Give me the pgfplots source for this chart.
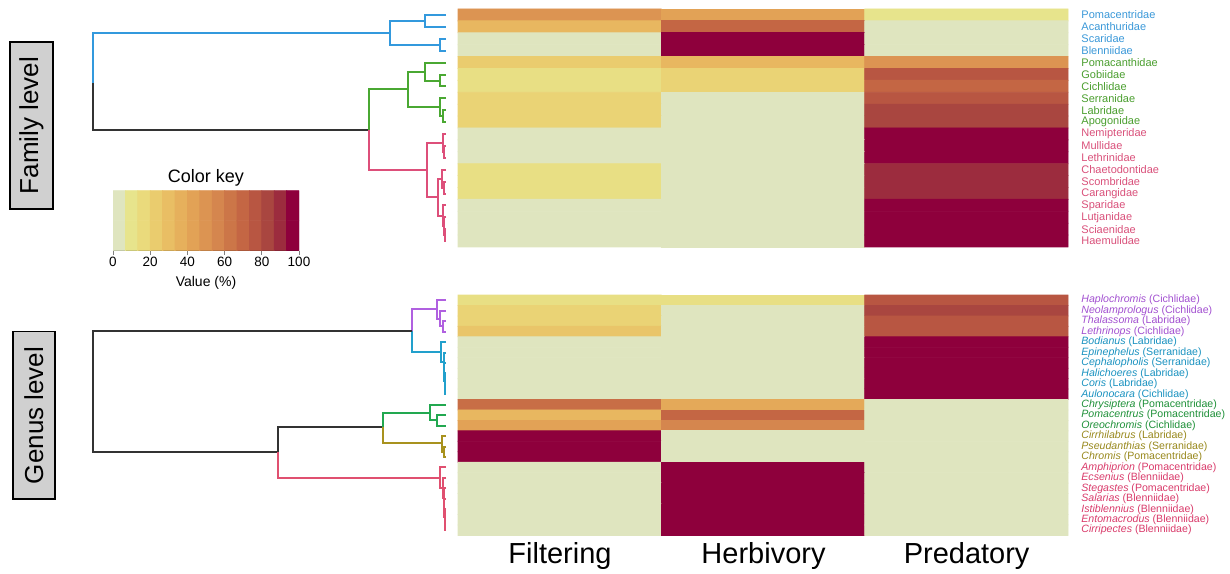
\documentclass[border=0pt]{standalone}
\usepackage{fontspec}
\setmainfont{Liberation Sans}
\usepackage{pgfplots}
\pgfplotsset{compat=1.18}
\definecolor{famblue}{HTML}{3399DD}
\definecolor{famgreen}{HTML}{4AA832}
\definecolor{fampink}{HTML}{DD4F7A}
\definecolor{genpurple}{HTML}{B060E0}
\definecolor{genblue}{HTML}{22A0CC}
\definecolor{gengreen}{HTML}{22A850}
\definecolor{genolive}{HTML}{A8921E}
\definecolor{genpink}{HTML}{E05070}
\definecolor{dgray}{HTML}{333333}
\definecolor{boxgray}{HTML}{D0D0D0}
\definecolor{tfamblue}{HTML}{3A98D8}
\definecolor{tfamgreen}{HTML}{4A9E2E}
\definecolor{tfampink}{HTML}{D9507A}
\definecolor{tgenpurple}{HTML}{A250D0}
\definecolor{tgenblue}{HTML}{1A92C0}
\definecolor{tgengreen}{HTML}{1E9038}
\definecolor{tgenolive}{HTML}{98881C}
\definecolor{tgenpink}{HTML}{D93A6A}
\pgfplotsset{colormap={fish}{rgb255(0cm)=(223,229,191) rgb255(0.5cm)=(223,229,191) rgb255(1.5cm)=(231,228,140) rgb255(2.5cm)=(234,218,124) rgb255(3.5cm)=(234,204,110) rgb255(4.5cm)=(233,190,100) rgb255(5.5cm)=(230,176,92) rgb255(6.5cm)=(226,162,86) rgb255(7.5cm)=(220,148,82) rgb255(8.5cm)=(213,134,78) rgb255(9.5cm)=(204,118,72) rgb255(10.5cm)=(196,102,68) rgb255(11.5cm)=(184,86,66) rgb255(12.5cm)=(169,70,64) rgb255(13.5cm)=(156,44,62) rgb255(14.5cm)=(142,0,60) rgb255(15cm)=(142,0,60)}}
\newcommand\famfont{\fontsize{5.5}{6}\selectfont}
\newcommand\genfont{\fontsize{5.3}{6}\selectfont}
\begin{document}
\begin{tikzpicture}
\useasboundingbox (0,0) rectangle (615pt,286.5pt);
% ---------------- dendrograms (pixel coordinates) ----------------
\begin{axis}[at={(0pt,0pt)}, anchor=south west, width=615pt, height=286.5pt, scale only axis,
  xmin=0, xmax=1230, ymin=0, ymax=573, y dir=reverse, hide axis, clip=false,
  every axis plot/.append style={line width=1pt, line join=miter}]
% family: blue
\addplot[famblue] coordinates {(446,15) (425,15) (425,27) (446,27)};
\addplot[famblue] coordinates {(446,39) (440,39) (440,51) (446,51)};
\addplot[famblue] coordinates {(425,21) (390,21) (390,45) (440,45)};
\addplot[famblue] coordinates {(390,33) (93,33) (93,83)};
\addplot[dgray] coordinates {(93,83) (93,129.5) (369,129.5)};
% family: green
\addplot[famgreen] coordinates {(446,74.5) (440,74.5) (440,86.4) (446,86.4)};
\addplot[famgreen] coordinates {(446,62.6) (425,62.6) (425,80.5) (440,80.5)};
\addplot[famgreen] coordinates {(446,110.2) (443,110.2) (443,122.1) (446,122.1)};
\addplot[famgreen] coordinates {(446,98.3) (440,98.3) (440,116.2) (443,116.2)};
\addplot[famgreen] coordinates {(425,71.5) (408,71.5) (408,107.2) (440,107.2)};
\addplot[famgreen] coordinates {(408,89.4) (369,89.4) (369,129.5)};
% family: pink
\addplot[fampink] coordinates {(369,129.5) (369,170) (427,170)};
\addplot[fampink] coordinates {(446,145.9) (444,145.9) (444,157.8) (446,157.8)};
\addplot[fampink] coordinates {(446,134) (443,134) (443,151.9) (444,151.9)};
\addplot[fampink] coordinates {(446,181.6) (444,181.6) (444,193.5) (446,193.5)};
\addplot[fampink] coordinates {(446,169.7) (442,169.7) (442,187.5) (444,187.5)};
\addplot[fampink] coordinates {(446,229.2) (445,229.2) (445,241.1) (446,241.1)};
\addplot[fampink] coordinates {(446,217.3) (444,217.3) (444,235.1) (445,235.1)};
\addplot[fampink] coordinates {(446,205.4) (443,205.4) (443,226.2) (444,226.2)};
\addplot[fampink] coordinates {(442,178.6) (438,178.6) (438,215.8) (443,215.8)};
\addplot[fampink] coordinates {(443,143) (427,143) (427,197.2) (438,197.2)};
% genus: purple
\addplot[genpurple] coordinates {(446,321.1) (443,321.1) (443,331.6) (446,331.6)};
\addplot[genpurple] coordinates {(446,310.7) (440,310.7) (440,326.4) (443,326.4)};
\addplot[genpurple] coordinates {(446,300.2) (437,300.2) (437,318.5) (440,318.5)};
\addplot[genpurple] coordinates {(437,309.4) (412,309.4) (412,331)};
% genus: blue
\addplot[genblue] coordinates {(412,331) (412,352) (441,352)};
\addplot[genblue] coordinates {(446,383.8) (445,383.8) (445,394.3) (446,394.3)};
\addplot[genblue] coordinates {(446,373.4) (444.5,373.4) (444.5,389) (445,389)};
\addplot[genblue] coordinates {(446,362.9) (444,362.9) (444,381.2) (444.5,381.2)};
\addplot[genblue] coordinates {(446,352.5) (443.5,352.5) (443.5,372) (444,372)};
\addplot[genblue] coordinates {(446,342) (441,342) (441,362.2) (443.5,362.2)};
% genus: black
\addplot[dgray] coordinates {(412,331) (93,331) (93,452) (278,452)};
\addplot[dgray] coordinates {(278,452) (278,427) (383,427)};
% genus: green
\addplot[gengreen] coordinates {(446,415.2) (437,415.2) (437,425.6) (446,425.6)};
\addplot[gengreen] coordinates {(446,404.7) (430,404.7) (430,420.4) (437,420.4)};
\addplot[gengreen] coordinates {(430,412.5) (383,412.5) (383,427)};
% genus: olive
\addplot[genolive] coordinates {(383,427) (383,443) (441.7,443)};
\addplot[genolive] coordinates {(446,446.5) (443.5,446.5) (443.5,457) (446,457)};
\addplot[genolive] coordinates {(446,436.1) (441.7,436.1) (441.7,451.8) (443.5,451.8)};
% genus: pink
\addplot[genpink] coordinates {(278,452) (278,477.5) (440,477.5)};
\addplot[genpink] coordinates {(446,519.7) (445,519.7) (445,530.1) (446,530.1)};
\addplot[genpink] coordinates {(446,509.2) (444.5,509.2) (444.5,524.9) (445,524.9)};
\addplot[genpink] coordinates {(446,498.8) (444,498.8) (444,517) (444.5,517)};
\addplot[genpink] coordinates {(446,488.3) (443.5,488.3) (443.5,508) (444,508)};
\addplot[genpink] coordinates {(446,477.9) (443,477.9) (443,498) (443.5,498)};
\addplot[genpink] coordinates {(446,467.4) (440,467.4) (440,487.7) (443,487.7)};
\end{axis}
% ---------------- family heatmap ----------------
\begin{axis}[at={(229pt,282pt)}, anchor=north west, width=305pt, height=119pt, scale only axis,
  xmin=-0.5, xmax=2.5, ymin=-0.5, ymax=19.5, y dir=reverse, hide axis, clip=false,
  point meta min=0, point meta max=100]
\addplot[matrix plot*, mesh/cols=3, point meta=explicit] table[meta=v] {
x y v
0 0 50
1 0 43.3
2 0 10
0 1 33.3
1 1 70
2 1 0
0 2 0
1 2 100
2 2 0
0 3 0
1 3 100
2 3 0
0 4 23.3
1 4 33.3
2 4 50
0 5 13.3
1 5 20
2 5 76.7
0 6 13.3
1 6 20
2 6 70
0 7 20
1 7 0
2 7 76.7
0 8 20
1 8 0
2 8 83.3
0 9 20
1 9 0
2 9 83.3
0 10 0
1 10 0
2 10 100
0 11 0
1 11 0
2 11 100
0 12 0
1 12 0
2 12 100
0 13 13.3
1 13 0
2 13 90
0 14 13.3
1 14 0
2 14 90
0 15 13.3
1 15 0
2 15 90
0 16 0
1 16 0
2 16 100
0 17 0
1 17 0
2 17 100
0 18 0
1 18 0
2 18 100
0 19 0
1 19 0
2 19 100
};
\begin{scope}[every node/.style={anchor=west, inner sep=0pt, xshift=6.5pt, font=\famfont}]
\node[text=tfamblue] at (axis cs:2.5,0) {Pomacentridae};
\node[text=tfamblue] at (axis cs:2.5,1) {Acanthuridae};
\node[text=tfamblue] at (axis cs:2.5,2) {Scaridae};
\node[text=tfamblue] at (axis cs:2.5,3) {Blenniidae};
\node[text=tfamgreen] at (axis cs:2.5,4) {Pomacanthidae};
\node[text=tfamgreen] at (axis cs:2.5,5) {Gobiidae};
\node[text=tfamgreen] at (axis cs:2.5,6) {Cichlidae};
\node[text=tfamgreen] at (axis cs:2.5,7) {Serranidae};
\node[text=tfamgreen] at (axis cs:2.5,8) {Labridae};
\node[text=tfamgreen] at (axis cs:2.5,9) {Apogonidae};
\node[text=tfampink] at (axis cs:2.5,10) {Nemipteridae};
\node[text=tfampink] at (axis cs:2.5,11) {Mullidae};
\node[text=tfampink] at (axis cs:2.5,12) {Lethrinidae};
\node[text=tfampink] at (axis cs:2.5,13) {Chaetodontidae};
\node[text=tfampink] at (axis cs:2.5,14) {Scombridae};
\node[text=tfampink] at (axis cs:2.5,15) {Carangidae};
\node[text=tfampink] at (axis cs:2.5,16) {Sparidae};
\node[text=tfampink] at (axis cs:2.5,17) {Lutjanidae};
\node[text=tfampink] at (axis cs:2.5,18) {Sciaenidae};
\node[text=tfampink] at (axis cs:2.5,19) {Haemulidae};
\end{scope}
\end{axis}
% ---------------- genus heatmap ----------------
\begin{axis}[at={(229pt,139pt)}, anchor=north west, width=305pt, height=120.2pt, scale only axis,
  xmin=-0.5, xmax=2.5, ymin=-0.5, ymax=22.5, y dir=reverse, hide axis, clip=false,
  point meta min=0, point meta max=100]
\addplot[matrix plot*, mesh/cols=3, point meta=explicit] table[meta=v] {
x y v
0 0 13.3
1 0 13.3
2 0 76.7
0 1 20
1 1 0
2 1 83.3
0 2 20
1 2 0
2 2 76.7
0 3 26.7
1 3 0
2 3 76.7
0 4 0
1 4 0
2 4 100
0 5 0
1 5 0
2 5 100
0 6 0
1 6 0
2 6 100
0 7 0
1 7 0
2 7 100
0 8 0
1 8 0
2 8 100
0 9 0
1 9 0
2 9 100
0 10 66.7
1 10 40
2 10 0
0 11 33.3
1 11 70
2 11 0
0 12 43.3
1 12 56.7
2 12 0
0 13 100
1 13 0
2 13 0
0 14 100
1 14 0
2 14 0
0 15 100
1 15 0
2 15 0
0 16 0
1 16 100
2 16 0
0 17 0
1 17 100
2 17 0
0 18 0
1 18 100
2 18 0
0 19 0
1 19 100
2 19 0
0 20 0
1 20 100
2 20 0
0 21 0
1 21 100
2 21 0
0 22 0
1 22 100
2 22 0
};
\begin{scope}[every node/.style={anchor=west, inner sep=0pt, xshift=6.5pt, font=\genfont}]
\node[text=tgenpurple] at (axis cs:2.5,0) {\textit{Haplochromis} (Cichlidae)};
\node[text=tgenpurple] at (axis cs:2.5,1) {\textit{Neolamprologus} (Cichlidae)};
\node[text=tgenpurple] at (axis cs:2.5,2) {\textit{Thalassoma} (Labridae)};
\node[text=tgenpurple] at (axis cs:2.5,3) {\textit{Lethrinops} (Cichlidae)};
\node[text=tgenblue] at (axis cs:2.5,4) {\textit{Bodianus} (Labridae)};
\node[text=tgenblue] at (axis cs:2.5,5) {\textit{Epinephelus} (Serranidae)};
\node[text=tgenblue] at (axis cs:2.5,6) {\textit{Cephalopholis} (Serranidae)};
\node[text=tgenblue] at (axis cs:2.5,7) {\textit{Halichoeres} (Labridae)};
\node[text=tgenblue] at (axis cs:2.5,8) {\textit{Coris} (Labridae)};
\node[text=tgenblue] at (axis cs:2.5,9) {\textit{Aulonocara} (Cichlidae)};
\node[text=tgengreen] at (axis cs:2.5,10) {\textit{Chrysiptera} (Pomacentridae)};
\node[text=tgengreen] at (axis cs:2.5,11) {\textit{Pomacentrus} (Pomacentridae)};
\node[text=tgengreen] at (axis cs:2.5,12) {\textit{Oreochromis} (Cichlidae)};
\node[text=tgenolive] at (axis cs:2.5,13) {\textit{Cirrhilabrus} (Labridae)};
\node[text=tgenolive] at (axis cs:2.5,14) {\textit{Pseudanthias} (Serranidae)};
\node[text=tgenolive] at (axis cs:2.5,15) {\textit{Chromis} (Pomacentridae)};
\node[text=tgenpink] at (axis cs:2.5,16) {\textit{Amphiprion} (Pomacentridae)};
\node[text=tgenpink] at (axis cs:2.5,17) {\textit{Ecsenius} (Blenniidae)};
\node[text=tgenpink] at (axis cs:2.5,18) {\textit{Stegastes} (Pomacentridae)};
\node[text=tgenpink] at (axis cs:2.5,19) {\textit{Salarias} (Blenniidae)};
\node[text=tgenpink] at (axis cs:2.5,20) {\textit{Istiblennius} (Blenniidae)};
\node[text=tgenpink] at (axis cs:2.5,21) {\textit{Entomacrodus} (Blenniidae)};
\node[text=tgenpink] at (axis cs:2.5,22) {\textit{Cirripectes} (Blenniidae)};
\end{scope}
\end{axis}
% ---------------- colour key ----------------
\begin{axis}[at={(56.5pt,191.15pt)}, anchor=north west, width=93pt, height=30pt, scale only axis,
  xmin=0, xmax=100, ymin=0, ymax=1, axis y line=none, axis x line*=bottom, x axis line style={-, line width=0.4pt},
  xtick={0,20,40,60,80,100}, ytick=\empty, tick align=outside, major tick length=2pt, tick style={line width=0.4pt},
  point meta min=0, point meta max=100, /pgf/number format/assume math mode=true,
  xticklabel style={font=\fontsize{6.75}{8}\selectfont, anchor=center, yshift=-3.4pt},
  title={Color key}, title style={font=\fontsize{9}{10}\selectfont, at={(0.5,1)}, anchor=center, yshift=0.4pt},
  xlabel={Value (\%)}, xlabel style={font=\fontsize{7}{8}\selectfont, at={(axis description cs:0.5,0)}, anchor=center, yshift=-16.2pt}]
\addplot[matrix plot*, mesh/cols=15, point meta=explicit] table[meta=v] {
x y v
3.333 0.25 3.333
10 0.25 10
16.667 0.25 16.667
23.333 0.25 23.333
30 0.25 30
36.667 0.25 36.667
43.333 0.25 43.333
50 0.25 50
56.667 0.25 56.667
63.333 0.25 63.333
70 0.25 70
76.667 0.25 76.667
83.333 0.25 83.333
90 0.25 90
96.667 0.25 96.667
3.333 0.75 3.333
10 0.75 10
16.667 0.75 16.667
23.333 0.75 23.333
30 0.75 30
36.667 0.75 36.667
43.333 0.75 43.333
50 0.75 50
56.667 0.75 56.667
63.333 0.75 63.333
70 0.75 70
76.667 0.75 76.667
83.333 0.75 83.333
90 0.75 90
96.667 0.75 96.667
};
\end{axis}
% ---------------- side boxes and column names ----------------
\draw[fill=boxgray, line width=0.8pt] (5pt,182pt) rectangle (26.5pt,265.5pt);
\node[rotate=90, font=\fontsize{13}{15}\selectfont] at (15.75pt,223.75pt) {Family level};
\draw[fill=boxgray, line width=0.8pt] (6.35pt,37pt) rectangle (27.5pt,120.65pt);
\node[rotate=90, font=\fontsize{13}{15}\selectfont] at (16.9pt,78.8pt) {Genus level};
\node[font=\fontsize{14.5}{16}\selectfont] at (280pt,8.5pt) {Filtering};
\node[font=\fontsize{14.5}{16}\selectfont] at (381.75pt,8.5pt) {Herbivory};
\node[font=\fontsize{14.5}{16}\selectfont] at (483.3pt,8.5pt) {Predatory};
\end{tikzpicture}
\end{document}
